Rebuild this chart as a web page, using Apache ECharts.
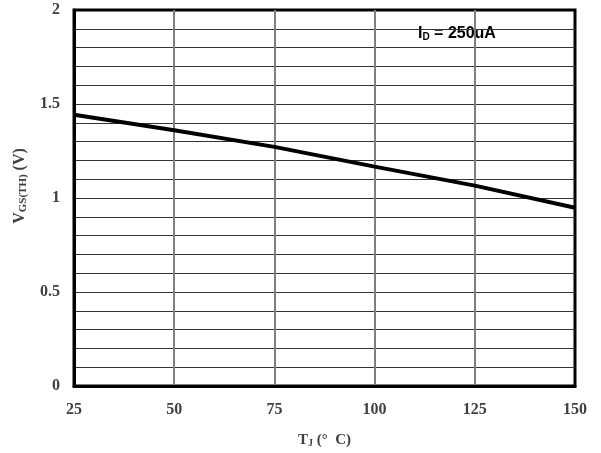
<!DOCTYPE html>
<html>
<head>
<meta charset="utf-8">
<script src="https://cdn.jsdelivr.net/npm/echarts@6/dist/echarts.min.js"></script>
<style>
  html, body { margin: 0; padding: 0; background: #fff; }
  #chart { width: 601px; height: 453px; }
</style>
</head>
<body>
<div id="chart"></div>
<script>
// junction temperature (°C) and threshold voltage (V)
var tempC = [25, 50, 75, 100, 125, 150];
var vgsTh = [1.443, 1.36, 1.272, 1.167, 1.066, 0.948];
var yTicks = [0, 0.5, 1, 1.5, 2];

var data = tempC.map(function (t, i) { return [t, vgsTh[i]]; });

var myChart = echarts.init(document.getElementById('chart'));
var serif = '"Liberation Serif", "DejaVu Serif", serif';

var option = {
  animation: false,
  grid: {
    left: 74, right: 26, top: 10, bottom: 66,
    show: true,
    borderColor: '#000',
    borderWidth: 3
  },
  xAxis: {
    type: 'value',
    min: 25, max: 150, interval: 25,
    axisLine: { show: true, lineStyle: { color: '#000', width: 3 } },
    axisTick: { show: false },
    axisLabel: {
      margin: 16,
      color: '#404040',
      fontFamily: serif,
      fontWeight: 'bold',
      fontSize: 16
    },
    splitLine: {
      show: true,
      showMinLine: false,
      showMaxLine: false,
      lineStyle: { color: '#7f7f7f', width: 2 }
    },
    name: '{b|T}{s|J}{b| (°  C)}',
    nameLocation: 'middle',
    nameGap: 46,
    nameTextStyle: {
      rich: {
        b: { fontFamily: serif, fontWeight: 'bold', fontSize: 15, color: '#404040' },
        s: { fontFamily: serif, fontWeight: 'bold', fontSize: 10, color: '#404040', verticalAlign: 'bottom', padding: [6, 0, 0, 0] }
      }
    }
  },
  yAxis: {
    type: 'value',
    min: 0, max: 2, interval: 0.5,
    axisLine: { show: true, lineStyle: { color: '#000', width: 3 } },
    axisTick: { show: false },
    axisLabel: {
      margin: 14,
      color: '#404040',
      fontFamily: serif,
      fontWeight: 'bold',
      fontSize: 16,
      formatter: function (v) {
        return yTicks.indexOf(v) >= 0 ? String(v) : '';
      }
    },
    splitLine: {
      show: true,
      showMinLine: false,
      showMaxLine: false,
      lineStyle: { color: '#333', width: 1.2 }
    },
    minorTick: { show: false, splitNumber: 5 },
    minorSplitLine: { show: true, lineStyle: { color: '#333', width: 1.2 } },
    name: '{b|V}{s|GS(TH)}{b| (V)}',
    nameLocation: 'middle',
    nameGap: 45,
    nameTextStyle: {
      padding: [0, 0, 0, 24],
      rich: {
        b: { fontFamily: serif, fontWeight: 'bold', fontSize: 16, color: '#404040' },
        s: { fontFamily: serif, fontWeight: 'bold', fontSize: 11, color: '#404040', verticalAlign: 'bottom', padding: [7, 0, 0, 0] }
      }
    }
  },
  graphic: [{
    type: 'text',
    left: 418,
    top: 26,
    style: {
      text: '{b|I}{s|D}{b| = 250uA}',
      rich: {
        b: { fontFamily: '"Liberation Sans", sans-serif', fontWeight: 'bold', fontSize: 16, color: '#000' },
        s: { fontFamily: '"Liberation Sans", sans-serif', fontWeight: 'bold', fontSize: 10, color: '#000', verticalAlign: 'bottom', padding: [7, 0, 0, 0] }
      }
    }
  }],
  series: [{
    type: 'line',
    data: data,
    symbol: 'none',
    smooth: false,
    lineStyle: { color: '#000', width: 4 }
  }]
};

option && myChart.setOption(option);
</script>
</body>
</html>
